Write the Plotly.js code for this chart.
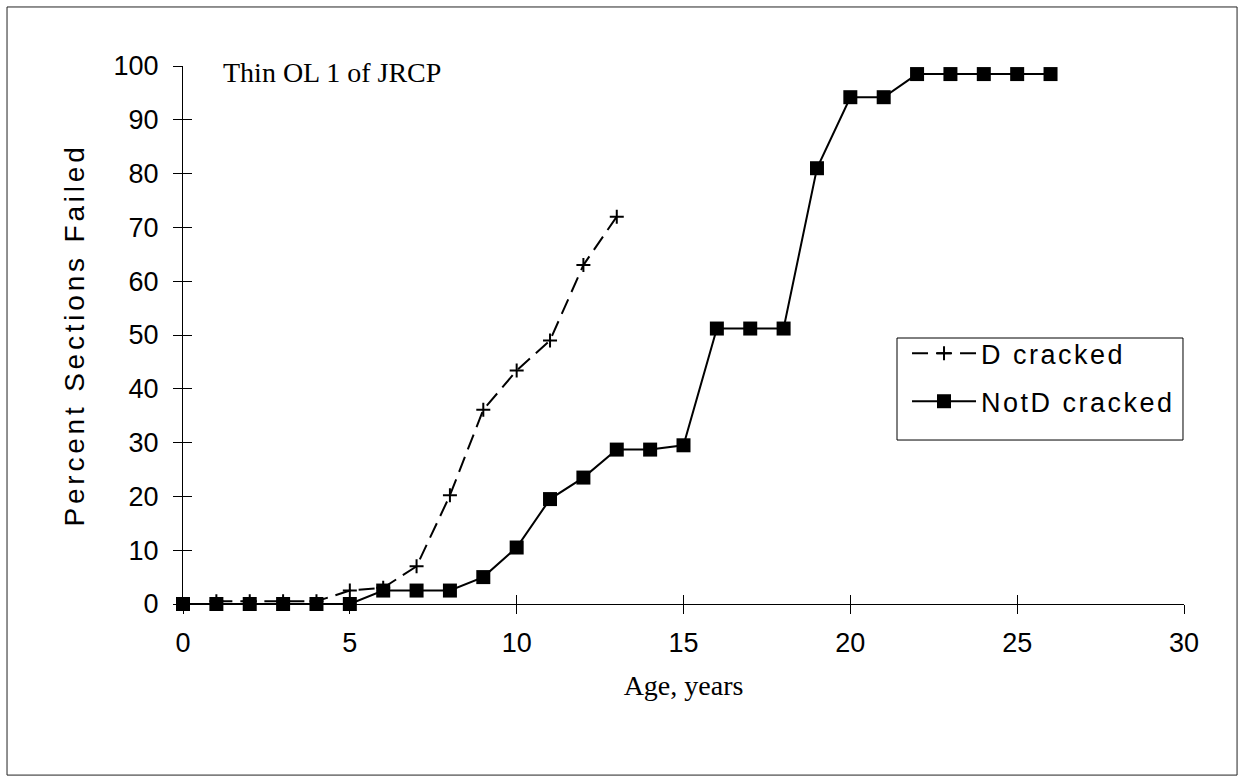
<!DOCTYPE html>
<html>
<head>
<meta charset="utf-8">
<script src="https://cdn.plot.ly/plotly-3.0.1.min.js"></script>
<style>
  html, body { margin: 0; padding: 0; background: #fff; }
  #chart { width: 1243px; height: 780px; }
  .ytitle { letter-spacing: 3.8px; }
  .legendtext { letter-spacing: 2.5px; }
</style>
</head>
<body>
<div id="chart"></div>
<script>
// ---- data ----
const notDAges = [0,1,2,3,4,5,6,7,8,9,10,11,12,13,14,15,16,17,18,19,20,21,22,23,24,25,26];
const notDValues = [0,0,0,0,0,0,2.5,2.5,2.5,5,10.5,19.5,23.5,28.7,28.7,29.5,51.2,51.2,51.2,81,94.2,94.2,98.5,98.5,98.5,98.5,98.5];
const dAges = [1,2,3,4,5,6,7,8,9,10,11,12,13];
const dValues = [0.5,0.5,0.5,0.5,2.5,3,7,20.2,36.1,43.4,49,63,72];
const xTicks = [0,5,10,15,20,25,30];
const yTicks = [0,10,20,30,40,50,60,70,80,90,100];
const seriesNames = ['D cracked', 'NotD cracked'];
const chartLabel = 'Thin OL 1 of JRCP';
const xTitle = 'Age, years';
const yTitle = 'Percent Sections Failed';

const sans = 'Liberation Sans, Arial, sans-serif';
const serif = 'Liberation Serif, Times New Roman, serif';

const traces = [
  {
    x: dAges, y: dValues, name: seriesNames[0], type: 'scatter', mode: 'lines+markers',
    line: { color: '#000', width: 2, dash: '16px,8px' },
    marker: { symbol: 'cross-thin', size: 10, line: { color: '#000', width: 2 } },
    cliponaxis: false, legendgroup: 'a'
  },
  {
    x: notDAges, y: notDValues, name: seriesNames[1], type: 'scatter', mode: 'lines+markers',
    line: { color: '#000', width: 2 },
    marker: { symbol: 'square', size: 14, color: '#000' },
    cliponaxis: false, legendgroup: 'b'
  }
];

const layout = {
  width: 1243, height: 780,
  paper_bgcolor: '#fff', plot_bgcolor: '#fff',
  margin: { l: 183, r: 59, t: 66, b: 176 },
  showlegend: true,
  legend: {
    x: 0.7233, y: 0.511, xanchor: 'left', yanchor: 'top',
    borderwidth: 0, bgcolor: 'rgba(0,0,0,0)',
    font: { family: sans, size: 27, color: '#000' },
    itemwidth: 64, tracegroupgap: 10, traceorder: 'grouped'
  },
  xaxis: {
    range: [0, 30], tickvals: xTicks, ticktext: xTicks.map(String),
    showgrid: false, zeroline: false, showline: true, linecolor: '#000', linewidth: 1,
    ticks: 'outside', ticklen: 9, tickcolor: '#000', tickwidth: 1,
    ticklabelstandoff: 6,
    tickfont: { family: sans, size: 27, color: '#000' },
    title: { text: xTitle, font: { family: serif, size: 28, color: '#000' }, standoff: 17 }
  },
  yaxis: {
    range: [0, 100], tickvals: yTicks, ticktext: yTicks.map(String),
    showgrid: false, zeroline: false, showline: true, linecolor: '#000', linewidth: 1,
    ticks: 'outside', ticklen: 9, tickcolor: '#000', tickwidth: 1,
    ticklabelstandoff: 9,
    tickfont: { family: sans, size: 27, color: '#000' },
    title: { text: yTitle, font: { family: sans, size: 28, color: '#000' }, standoff: 20 }
  },
  xaxis2: {
    overlaying: 'x', anchor: 'y', side: 'bottom', range: [0, 30], tickvals: xTicks,
    showticklabels: false, showgrid: false, zeroline: false, showline: false,
    ticks: 'inside', ticklen: 9, tickcolor: '#000', tickwidth: 1
  },
  yaxis2: {
    overlaying: 'y', anchor: 'x', side: 'left', range: [0, 100], tickvals: yTicks,
    showticklabels: false, showgrid: false, zeroline: false, showline: false,
    ticks: 'inside', ticklen: 9, tickcolor: '#000', tickwidth: 1
  },
  annotations: [
    {
      text: chartLabel, xref: 'paper', yref: 'paper', x: 0.038, y: 0.987,
      xanchor: 'left', yanchor: 'middle', showarrow: false,
      font: { family: serif, size: 28, color: '#000' }
    }
  ],
  shapes: [
    {
      type: 'rect', xref: 'paper', yref: 'paper',
      x0: -0.1758, x1: 1.053, y0: -0.318, y1: 1.1097,
      line: { color: '#222', width: 1 }, fillcolor: 'rgba(0,0,0,0)', layer: 'below'
    },
    {
      // legend frame
      type: 'rect', xref: 'paper', yref: 'paper',
      x0: 0.7133, x1: 0.999, y0: 0.3048, y1: 0.4944,
      line: { color: '#000', width: 1 }, fillcolor: 'rgba(0,0,0,0)', layer: 'above'
    }
  ]
};

// invisible helper traces so the overlay tick axes are drawn
traces.push({ x: [0], y: [0], xaxis: 'x2', yaxis: 'y', mode: 'markers', marker: { opacity: 0 }, showlegend: false, hoverinfo: 'skip' });
traces.push({ x: [0], y: [0], xaxis: 'x', yaxis: 'y2', mode: 'markers', marker: { opacity: 0 }, showlegend: false, hoverinfo: 'skip' });

Plotly.newPlot('chart', traces, layout, { staticPlot: true, displayModeBar: false });
</script>
</body>
</html>
